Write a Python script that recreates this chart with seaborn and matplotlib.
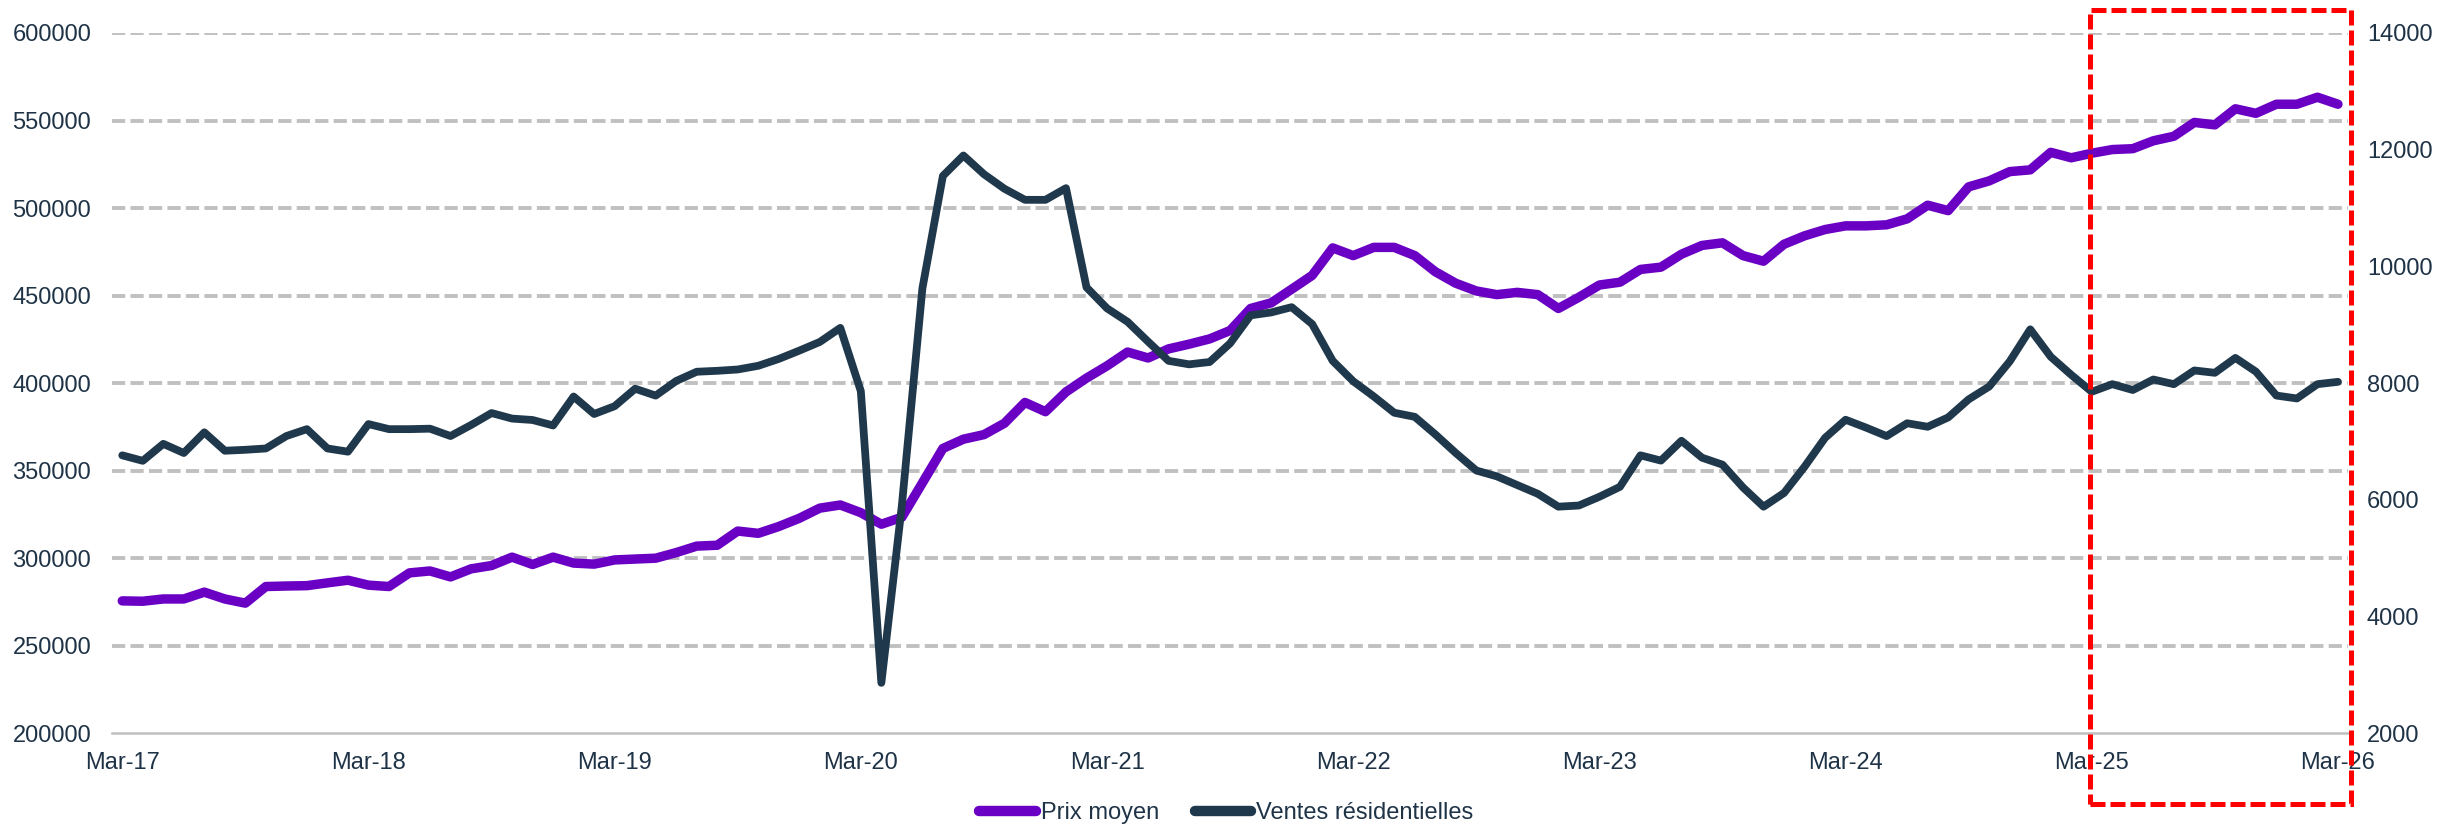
import matplotlib
matplotlib.use("Agg")
import matplotlib.pyplot as plt
import matplotlib.patches as mpatches
import seaborn as sns
import pandas as pd

# ---- data (monthly, Mar-17 .. Mar-26) ----
tick_labels = ["Mar-17", "Mar-18", "Mar-19", "Mar-20", "Mar-21",
               "Mar-22", "Mar-23", "Mar-24", "Mar-25", "Mar-26"]

prix_moyen = [
    275500, 275300, 276600, 276600, 280500, 276600, 274200, 283700, 284000, 284200,
    285800, 287300, 284500, 283700, 291500, 292600, 289200, 293800, 295700, 300500,
    296300, 300500, 297100, 296500, 298900, 299400, 299900, 303100, 306800, 307300,
    315400, 314100, 318000, 322700, 328500, 330300, 325900, 319300, 323300, 342900,
    362600, 367900, 370500, 377000, 388900, 383600, 394900, 402800, 409800, 417700,
    414300, 419500, 422200, 425200, 430000, 442600, 445800, 453600, 461500, 477200,
    472800, 477500, 477500, 472800, 463600, 457000, 452600, 450500, 451800, 450500,
    442600, 449000, 456000, 457600, 464900, 466200, 473600, 478600, 480100, 472800,
    469600, 479300, 484100, 487700, 489800, 489800, 490400, 493800, 501600, 498500,
    512100, 515500, 520800, 521800, 531800, 528700, 531300, 533400, 533900, 538400,
    541000, 548900, 547500, 556700, 554100, 559300, 559300, 563300, 559300,
]

ventes_residentielles = [
    6760, 6666, 6957, 6800, 7154, 6839, 6855, 6878, 7091, 7209,
    6878, 6823, 7296, 7209, 7209, 7217, 7091, 7280, 7485, 7390,
    7366, 7272, 7768, 7469, 7603, 7902, 7784, 8035, 8193, 8209,
    8232, 8295, 8413, 8555, 8704, 8945, 7860, 2860, 5900, 9620,
    11550, 11900, 11580, 11330, 11140, 11140, 11340, 9640, 9280, 9050,
    8710, 8380, 8320, 8360, 8680, 9160, 9210, 9300, 9010, 8380,
    8030, 7770, 7490, 7420, 7120, 6800, 6500, 6400, 6250, 6100,
    5880, 5900, 6050, 6220, 6760, 6670, 7010, 6720, 6600, 6210,
    5880, 6115, 6565, 7060, 7370, 7235, 7090, 7310, 7250, 7410,
    7720, 7940, 8370, 8920, 8450, 8140, 7850, 7980, 7880, 8060,
    7980, 8215, 8175, 8430, 8195, 7785, 7735, 7980, 8020,
]

left_ticks = list(range(200000, 600001, 50000))
right_ticks = list(range(2000, 14001, 2000))

# ---- styling ----
PURPLE = "#6A00C4"
NAVY = "#1F384B"
TEXT = "#1F3347"
GRID = "#C0C0C0"
RED = "#FF0000"

sns.set_theme(style="white")
plt.rcParams["font.family"] = ["Liberation Sans", "DejaVu Sans"]

df = pd.DataFrame({
    "mois": range(len(prix_moyen)),
    "Prix moyen": prix_moyen,
    "Ventes résidentielles": ventes_residentielles,
})

fig = plt.figure(figsize=(24.59, 8.25), dpi=100)
ax = fig.add_axes([0.04555, 0.1115, 0.9094, 0.8485])
ax2 = ax.twinx()

sns.lineplot(data=df, x="mois", y="Prix moyen", ax=ax, color=PURPLE,
             linewidth=6.8, label="Prix moyen", legend=False)
sns.lineplot(data=df, x="mois", y="Ventes résidentielles", ax=ax2, color=NAVY,
             linewidth=5.6, label="Ventes résidentielles", legend=False)

for a in (ax, ax2):
    for ln in a.get_lines():
        ln.set_solid_joinstyle("round")
        ln.set_solid_capstyle("round")

n = len(prix_moyen)
ax.set_xlim(-0.5, n - 0.5)
ax.set_ylim(left_ticks[0], left_ticks[-1])
ax2.set_ylim(right_ticks[0], right_ticks[-1])

ax.set_xticks(list(range(0, n, 12)))
ax.set_xticklabels(tick_labels)
ax.set_yticks(left_ticks)
ax.set_yticklabels([str(v) for v in left_ticks])
ax2.set_yticks(right_ticks)
ax2.set_yticklabels([str(v) for v in right_ticks])

ax.set_xlabel("")
ax.set_ylabel("")
ax2.set_ylabel("")

ax.tick_params(axis="x", length=0, pad=13.5, labelsize=17, labelcolor=TEXT)
ax.tick_params(axis="y", length=0, pad=15, labelsize=17, labelcolor=TEXT)
ax2.tick_params(axis="y", length=0, pad=13.5, labelsize=17, labelcolor=TEXT)

ax.grid(axis="y", color=GRID, linewidth=2.8, linestyle=(0, (3.4, 1.35)))
ax.grid(axis="x", visible=False)
ax2.grid(False)
ax.yaxis.get_gridlines()[0].set_visible(False)
ax.set_axisbelow(True)

for a in (ax, ax2):
    for side in ("top", "left", "right", "bottom"):
        a.spines[side].set_visible(False)
ax.spines["bottom"].set_visible(True)
ax.spines["bottom"].set_color("#BFBFBF")
ax.spines["bottom"].set_linewidth(1.8)

h1, l1 = ax.get_legend_handles_labels()
h2, l2 = ax2.get_legend_handles_labels()
leg = fig.legend(h1 + h2, l1 + l2, loc="center", bbox_to_anchor=(0.4987, 0.0145),
                 ncol=2, frameon=False, fontsize=17, handlelength=2.4,
                 handletextpad=0.2, columnspacing=1.5)
for t in leg.get_texts():
    t.set_color(TEXT)
for hl in leg.legend_handles:
    hl.set_linewidth(7.5)
    hl.set_solid_capstyle("round")

rect = mpatches.Rectangle((0.8499, 0.02545), 0.1061, 0.9624, transform=fig.transFigure,
                          fill=False, edgecolor=RED, linewidth=3.6,
                          linestyle=(0, (3, 1)), clip_on=False)
fig.add_artist(rect)

fig.savefig("out.png", dpi=100)
